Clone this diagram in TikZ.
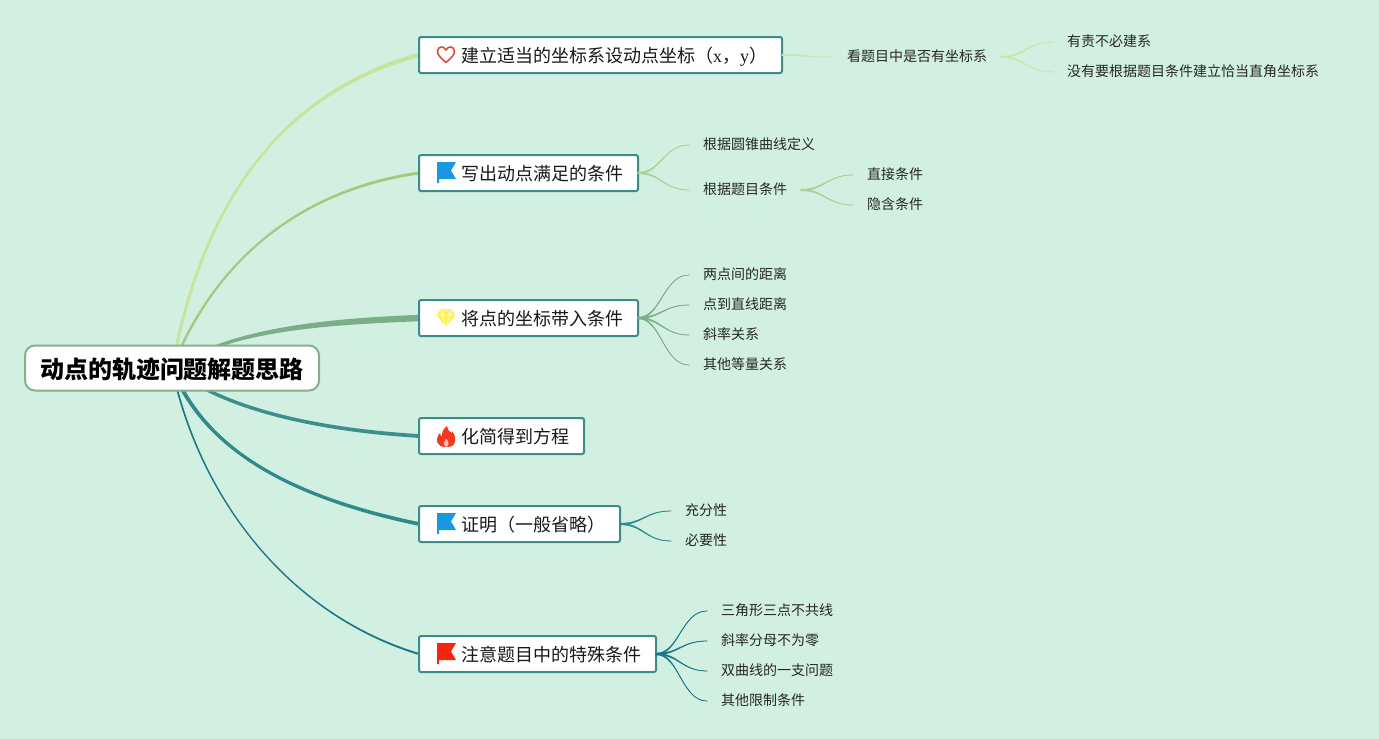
\documentclass[tikz,border=0pt]{standalone}
\usepackage{fontspec}
\setmainfont{Noto Sans CJK SC}
\newfontfamily\latinserif{Liberation Serif}
\usetikzlibrary{calc}
\definecolor{bgc}{HTML}{D2F0E2}
\definecolor{boxc}{HTML}{3D8C8C}
\definecolor{rootc}{HTML}{86B08C}
\definecolor{ca}{HTML}{C6E49C}
\definecolor{cb}{HTML}{A3CB80}
\definecolor{cc}{HTML}{7BAE88}
\definecolor{cd}{HTML}{3B908C}
\definecolor{ce}{HTML}{2F8A8B}
\definecolor{cf}{HTML}{1B7686}
\definecolor{flagblue}{HTML}{1A96E2}
\definecolor{flagred}{HTML}{F5260E}
\definecolor{heartc}{HTML}{D9503F}
\definecolor{gemc}{HTML}{FFF04E}
\definecolor{flamec}{HTML}{F3391E}
\tikzset{
  x=1pt,y=-1pt,
  topicbox/.style={draw=boxc,line width=2pt,fill=white,rounded corners=2pt,anchor=west,inner xsep=0pt,inner ysep=0pt,minimum height=36pt,outer sep=0pt,text height=17pt,text depth=2pt,font=\fontsize{18}{18}\selectfont,text=black!90},
  rootbox/.style={draw=rootc,line width=2pt,fill=white,rounded corners=10pt,anchor=west,inner xsep=0pt,inner ysep=0pt,minimum height=45pt,minimum width=294pt,outer sep=0pt,text height=22pt,text depth=1.2pt,font=\fontsize{24}{24}\bfseries\selectfont,text=black},
  leaf/.style={anchor=west,inner xsep=14pt,inner ysep=0pt,outer sep=0pt,minimum height=20pt,text height=10.6pt,text depth=2pt,font=\fontsize{14}{14}\selectfont,text=black!85,yshift=-1pt},
}
% tapered sub connector: parent, child, colour
\newcommand{\stail}[3]{\filldraw[#3,line width=.55pt] ($(#1.east)+(0,-.8)$) .. controls ($(#1.east)!0.45!(#2.west|-#1.east)+(0,-.5)$) and ($(#2.west)!0.5!(#1.east|-#2.west)+(0,-.2)$) .. ($(#2.west)+(0,-.1)$) -- ($(#2.west)+(0,.1)$) .. controls ($(#2.west)!0.5!(#1.east|-#2.west)+(0,.2)$) and ($(#1.east)!0.45!(#2.west|-#1.east)+(0,.5)$) .. ($(#1.east)+(0,.8)$) -- cycle;}
% tapered main connector: colour, control 1, control 2, end, start half-offset x, start half-offset y, half width at end
\newcommand{\mtail}[7]{\fill[#1] ($(rc)+(-1*#5,-#6)$) .. controls ($#2+(-1*#5,-#6)$) and ($#3+(0,-#7)$) .. ($(#4)+(0,-#7)$) -- ($(#4)+(0,#7)$) .. controls ($#3+(0,#7)$) and ($#2+(#5,#6)$) .. ($(rc)+(#5,#6)$) -- cycle;}
\newcommand{\flagicon}[2]{\fill[#1] ($(#2)+(18,-11)$) -- ++(19,0) -- ++(-5,8.5) -- ++(5,8.5) -- ++(-17,0) -- ++(0,4) -- ++(-2,0) -- cycle;}
\begin{document}
\begin{tikzpicture}
\fill[bgc] (0,0) rectangle (1379,739);
\useasboundingbox (0,0) rectangle (1379,739);
\coordinate (rc) at (172,368);
\coordinate (t1w) at (419,55);
\coordinate (t2w) at (419,173);
\coordinate (t3w) at (419,318);
\coordinate (t4w) at (419,436);
\coordinate (t5w) at (419,524);
\coordinate (t6w) at (419,654);
% main connectors
\mtail{ca}{(205,190)}{(290,90)}{t1w}{1.6}{0}{2.2}
\mtail{cb}{(215,260)}{(300,190)}{t2w}{1.2}{0.4}{1.5}
\mtail{cc}{(230,330)}{(320,322)}{t3w}{0}{1.4}{3.2}
\mtail{cd}{(225,410)}{(320,430)}{t4w}{-0.6}{1.6}{1.9}
\mtail{ce}{(205,450)}{(290,497)}{t5w}{-1.8}{0.8}{1.9}
\mtail{cf}{(200,500)}{(290,615)}{t6w}{-.9}{0}{1}
% topics
\node[rootbox,align=center] (root) at (25,368) {动点的轨迹问题解题思路};
\node[topicbox] (t1) at (t1w) {\hspace*{42pt}建立适当的坐标系设动点坐标（{\latinserif x}，{\latinserif y}）\hspace*{15pt}};
\node[topicbox] (t2) at (t2w) {\hspace*{42pt}写出动点满足的条件\hspace*{15pt}};
\node[topicbox] (t3) at (t3w) {\hspace*{42pt}将点的坐标带入条件\hspace*{15pt}};
\node[topicbox] (t4) at (t4w) {\hspace*{42pt}化简得到方程\hspace*{15pt}};
\node[topicbox] (t5) at (t5w) {\hspace*{42pt}证明（一般省略）\hspace*{15pt}};
\node[topicbox] (t6) at (t6w) {\hspace*{42pt}注意题目中的特殊条件\hspace*{15pt}};
% icons
\begin{scope}[shift={(t1w)}]
\draw[heartc,line width=1.6pt,line join=round] (27,7.500) .. controls (22,3) and (18.500,0) .. (18.500,-3.500) .. controls (18.500,-9) and (25,-9.500) .. (27,-5) .. controls (29,-9.500) and (35.500,-9) .. (35.500,-3.500) .. controls (35.500,0) and (32,3) .. cycle;
\end{scope}
\flagicon{flagblue}{t2w}
\flagicon{flagblue}{t5w}
\flagicon{flagred}{t6w}
\begin{scope}[shift={(t3w)}]
\fill[gemc] (22,-9) -- (32,-9) -- (36.500,-3) -- (27,9) -- (17.500,-3) -- cycle;
\draw[gemc!25!white,line width=.7pt,line join=round] (17.500,-3) -- (36.500,-3) (22,-9) -- (23,-3) -- (27,9) -- (31,-3) -- (32,-9) (23,-3) -- (27,-9) -- (31,-3);
\end{scope}
\begin{scope}[shift={(t4w)}]
\fill[flamec] (28,-10) .. controls (29,-5) and (31,-4) .. (33,-3) .. controls (33,-4) and (33,-5) .. (33,-5) .. controls (37,0) and (37,5) .. (35,8) .. controls (33,11) and (30,11) .. (27,11) .. controls (23,11) and (20,10) .. (18.500,7) .. controls (17,3) and (19,-1) .. (21,-3) .. controls (21,-1) and (22,0) .. (23,0) .. controls (23,-4) and (24,-7) .. (28,-10) -- cycle;
\fill[flamec!35!white] (27,11) .. controls (25,10) and (24.500,8) .. (25,6.500) .. controls (25.500,5) and (27,4) .. (27,2.500) .. controls (29,4.500) and (30,6) .. (29.500,8) .. controls (29,10) and (28,10.500) .. (27,11) -- cycle;
\end{scope}
% leaves
\node[leaf] (a) at (833,56) {看题目中是否有坐标系};
\node[leaf] (a1) at (1053,41) {有责不必建系};
\node[leaf] (a2) at (1053,71) {没有要根据题目条件建立恰当直角坐标系};
\node[leaf] (b1) at (689,144) {根据圆锥曲线定义};
\node[leaf] (b2) at (689,189) {根据题目条件};
\node[leaf] (b21) at (853,174) {直接条件};
\node[leaf] (b22) at (853,204) {隐含条件};
\node[leaf] (c1) at (689,274) {两点间的距离};
\node[leaf] (c2) at (689,304) {点到直线距离};
\node[leaf] (c3) at (689,334) {斜率关系};
\node[leaf] (c4) at (689,364) {其他等量关系};
\node[leaf] (e1) at (671,510) {充分性};
\node[leaf] (e2) at (671,540) {必要性};
\node[leaf] (f1) at (707,610) {三角形三点不共线};
\node[leaf] (f2) at (707,640) {斜率分母不为零};
\node[leaf] (f3) at (707,670) {双曲线的一支问题};
\node[leaf] (f4) at (707,700) {其他限制条件};
% sub connectors
\stail{t1}{a}{ca!80!bgc}
\stail{a}{a1}{ca!80!bgc}
\stail{a}{a2}{ca!80!bgc}
\stail{t2}{b1}{cb!85!bgc}
\stail{t2}{b2}{cb!85!bgc}
\stail{b2}{b21}{cb!85!bgc}
\stail{b2}{b22}{cb!85!bgc}
\stail{t3}{c1}{cc}
\stail{t3}{c2}{cc}
\stail{t3}{c3}{cc}
\stail{t3}{c4}{cc}
\stail{t5}{e1}{ce}
\stail{t5}{e2}{ce}
\stail{t6}{f1}{cf}
\stail{t6}{f2}{cf}
\stail{t6}{f3}{cf}
\stail{t6}{f4}{cf}
\end{tikzpicture}
\end{document}
